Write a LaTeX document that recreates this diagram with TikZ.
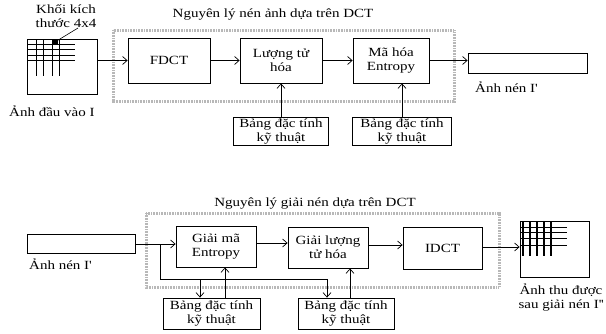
\documentclass[tikz,border=0pt]{standalone}
\usepackage{fontspec}
\setmainfont{Liberation Serif}[FakeStretch=1.2]
\usetikzlibrary{arrows.meta}

\begin{document}
\begin{tikzpicture}[x=1pt,y=-1pt,
    font=\fontsize{12.5}{14}\selectfont,
    >={Straight Barb[length=4.5pt,width=8pt]},
    block/.style={draw,line width=0.8pt,minimum width=80pt,minimum height=45pt,align=center,inner sep=1pt},
    tablebox/.style={draw,line width=0.8pt,minimum width=95pt,minimum height=28pt,align=center,inner sep=0.5pt},
    imgbox/.style={draw,line width=0.8pt,inner sep=0pt},
    frame/.style={draw=black!28,line width=3pt,dash pattern=on 1pt off 0.6pt},
    grid/.style={line width=0.9pt},
    flow/.style={->,line width=0.7pt}]

    \useasboundingbox (0,0) rectangle (606,333);

    % nen anh
    \draw[frame] (113,30) rectangle (454,101);
    \node (tnen) at (273,14) {Nguyên lý nén ảnh dựa trên DCT};

    \node[imgbox,minimum width=70pt,minimum height=55pt] (anhvao) at (62,66.5) {};
    \foreach \gx in {36,43,52,59} \draw[grid] (\gx,39) -- (\gx,76);
    \foreach \gy in {44,49,55,60} \draw[grid] (27,\gy) -- (75,\gy);
    \fill (52,40) rectangle (58,44.5);
    \coordinate (khoi) at (55,42);
    \node[align=center] (lkhoi) at (66,16) {Khối kích\\thước 4x4};
    \draw[line width=0.6pt] (khoi) -- (78,28);
    \node[anchor=west,inner sep=0pt] (lvao) at (9,111) {Ảnh đầu vào I};

    \node[block,minimum width=82pt] (fdct) at (169,60.5) {FDCT};
    \node[block,minimum width=82pt] (luong) at (281,60.5) {Lượng tử\\hóa};
    \node[block,minimum width=76pt] (mahoa) at (391,60.5) {Mã hóa\\Entropy};
    \node[imgbox,minimum width=119pt,minimum height=20pt] (anhnen) at (527.5,63) {};
    \node[anchor=west,inner sep=0pt] (lnen) at (475,87) {Ảnh nén I\textquotesingle};

    \node[tablebox] (bang1) at (281,131) {Bảng đặc tính\\kỹ thuật};
    \node[tablebox,minimum width=99pt] (bang2) at (402,131) {Bảng đặc tính\\kỹ thuật};

    \draw[flow] (anhvao.east |- fdct) -- (fdct.west);
    \draw[flow] (fdct) -- (luong);
    \draw[flow] (luong) -- (mahoa);
    \draw[flow] (mahoa.east) -- (anhnen.west |- mahoa);
    \draw[flow] (bang1.north) -- (luong.south);
    \draw[flow] (bang2.north) -- (bang2.north |- mahoa.south);

    % giai nen
    \draw[frame] (146,213) rectangle (499,287);
    \node (tgiai) at (315,203) {Nguyên lý giải nén dựa trên DCT};

    \node[imgbox,minimum width=108pt,minimum height=19pt] (nenvao) at (81,243.5) {};
    \node[anchor=west,inner sep=0pt] (lnenvao) at (29,264) {Ảnh nén I\textquotesingle};

    \node[block,minimum height=41pt] (giaima) at (216,246.5) {Giải mã\\Entropy};
    \node[block,minimum height=41pt] (giailuong) at (328,247.5) {Giải lượng\\tử hóa};
    \node[block,minimum width=79pt,minimum height=42pt] (idct) at (442.5,248) {IDCT};
    \node[imgbox,minimum width=69pt,minimum height=56pt] (anhra) at (554.5,249) {};
    \foreach \gx in {523,530,537,544,551} \draw[line width=1.3pt] (\gx,221) -- (\gx,256);
    \foreach \gy in {227,232,238,245} \draw[grid] (520,\gy) -- (567,\gy);
    \node[align=center] (lra) at (561,298) {Ảnh thu được\\sau giải nén I\textquotesingle\textquotesingle};

    \node[tablebox,minimum width=97pt,minimum height=31pt] (bang3) at (211.5,313.5) {Bảng đặc tính\\kỹ thuật};
    \node[tablebox,minimum width=96pt,minimum height=31pt] (bang4) at (346,313.5) {Bảng đặc tính\\kỹ thuật};

    \coordinate (re) at (160,244);
    \coordinate (reduoi) at (160,279);
    \draw[flow] (nenvao.east |- re) -- (giaima.west |- re);
    \draw[line width=0.7pt] (re) -- (reduoi) -- (327,279);
    \draw[flow] (327,279) -- (bang4.north -| 327,0);
    \draw[flow] (200,279) -- (bang3.north -| 200,0);
    \draw[flow] (bang3.north -| 225,0) -- (giaima.south -| 225,0);
    \draw[flow] (bang4.north -| 350,0) -- (giailuong.south -| 350,0);
    \draw[flow] (giaima.east |- 0,243) -- (giailuong.west |- 0,243);
    \draw[flow] (giailuong.east |- 0,245) -- (idct.west |- 0,245);
    \draw[flow] (idct.east |- 0,247) -- (anhra.west |- 0,247);
\end{tikzpicture}
\end{document}
